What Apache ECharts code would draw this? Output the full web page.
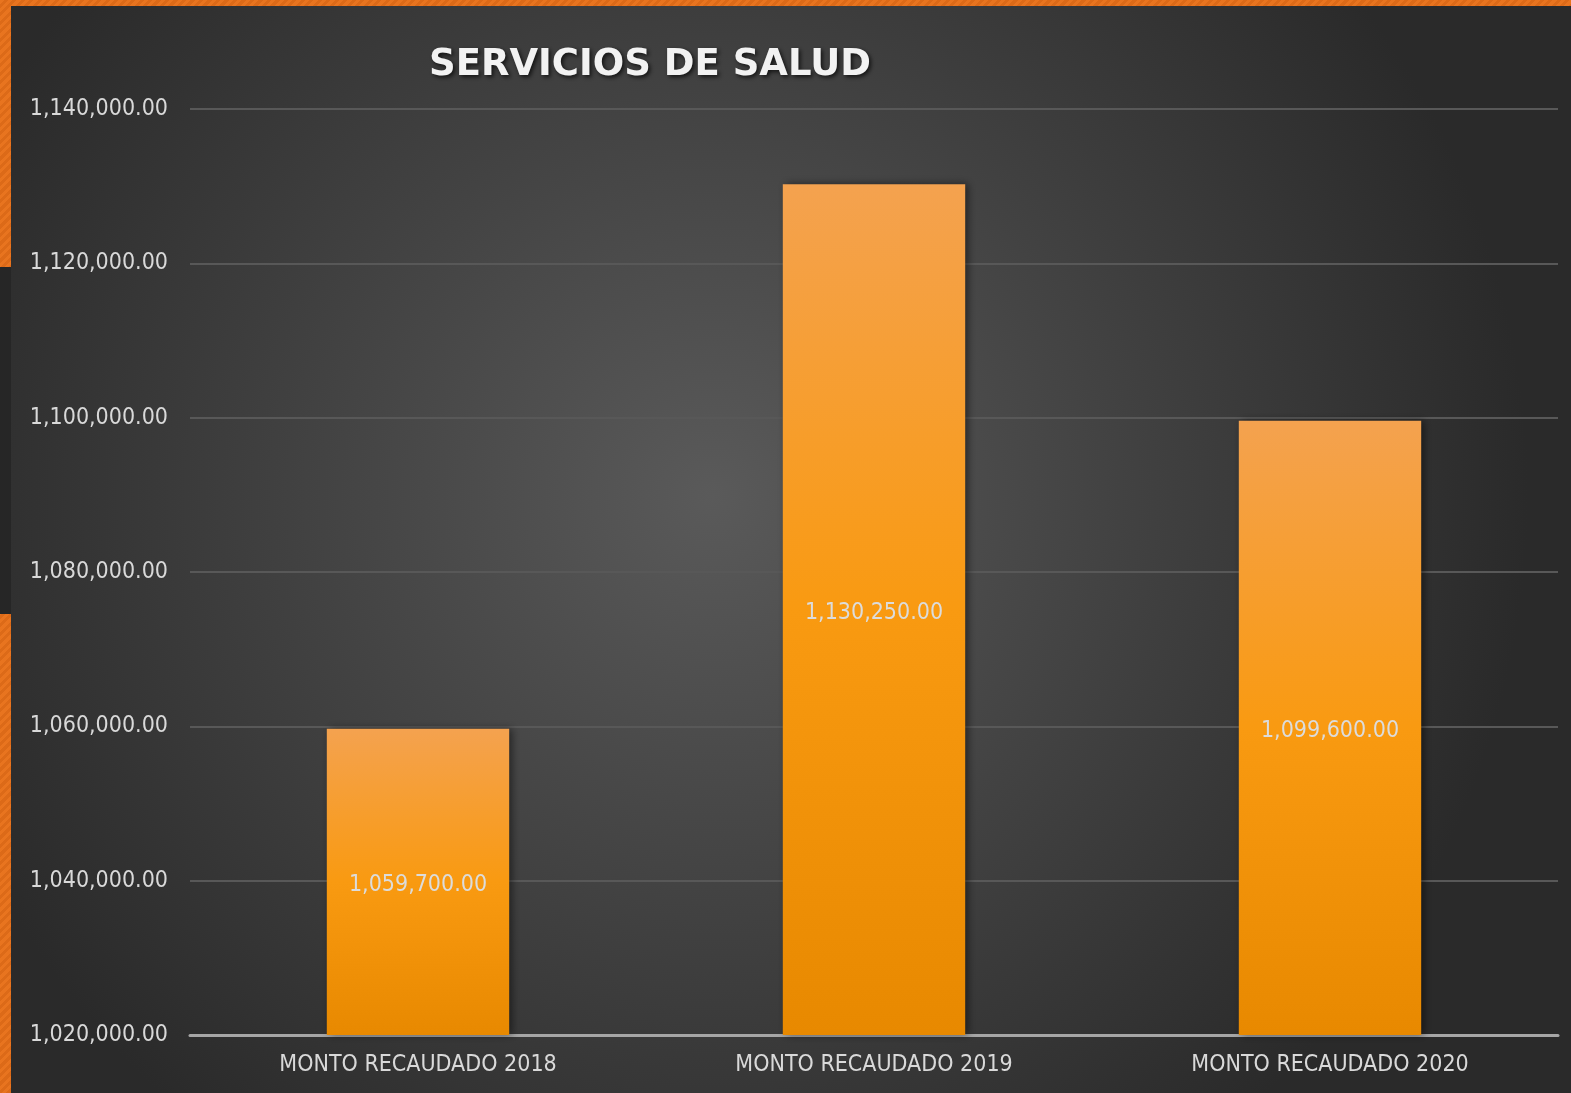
<!DOCTYPE html>
<html><head><meta charset="utf-8">
<script src="https://cdn.jsdelivr.net/npm/echarts@6/dist/echarts.min.js"></script>
<style>
html,body{margin:0;padding:0;width:1571px;height:1093px;overflow:hidden;}
body{background:repeating-linear-gradient(135deg,#e8741f 0px,#e8741f 3px,#dc6a18 3px,#dc6a18 6px);position:relative;}
#strip{position:absolute;left:0;top:267px;width:11px;height:347px;background:#262626;}
#c{position:absolute;left:11px;top:6px;width:1560px;height:1087px;}
</style></head>
<body><div id="strip"></div><div id="c"></div>
<script>
const categories = ['MONTO RECAUDADO 2018','MONTO RECAUDADO 2019','MONTO RECAUDADO 2020'];
const values = [1059700, 1130250, 1099600];
const titleText = 'SERVICIOS DE SALUD';

function fmt(v){
  return Number(v).toLocaleString('en-US',{minimumFractionDigits:2,maximumFractionDigits:2});
}
const chart = echarts.init(document.getElementById('c'));
chart.setOption({
  backgroundColor: new echarts.graphic.RadialGradient(0.45,0.45,0.75,[
    {offset:0,color:'#5a5a5a'},{offset:1,color:'#2a2a2a'}
  ]),
  title:{
    text:titleText,left:634,top:36,textAlign:'center',
    textStyle:{color:'#f2f2f2',fontSize:37,fontWeight:'bold',fontFamily:'DejaVu Sans',
      textShadowColor:'rgba(0,0,0,0.7)',textShadowBlur:4,textShadowOffsetX:2,textShadowOffsetY:2}
  },
  grid:{left:179,right:13,top:103,bottom:58,containLabel:false},
  xAxis:{
    type:'category',data:categories,
    axisLine:{lineStyle:{color:'#a6a6a6',width:3}},
    axisTick:{show:false},
    axisLabel:{color:'#d9d9d9',fontSize:23,margin:19,fontFamily:'DejaVu Sans Condensed'}
  },
  yAxis:{
    type:'value',min:1020000,max:1140000,interval:20000,
    axisLine:{show:false},axisTick:{show:false},
    splitLine:{lineStyle:{color:'#585858',width:2}},
    axisLabel:{color:'#d9d9d9',fontSize:23,margin:22,fontFamily:'DejaVu Sans Condensed',formatter:fmt}
  },
  series:[{
    type:'bar',data:values,barWidth:'40%',
    itemStyle:{
      color:new echarts.graphic.LinearGradient(0,0,0,1,[
        {offset:0,color:'#f4a24f'},{offset:0.5,color:'#f99a11'},{offset:1,color:'#e88900'}
      ]),
      shadowColor:'rgba(0,0,0,0.5)',shadowBlur:8,shadowOffsetX:3,shadowOffsetY:0
    },
    label:{show:true,position:'inside',offset:[0,3],color:'#dcdcdc',fontSize:23,fontFamily:'DejaVu Sans Condensed',formatter:p=>fmt(p.value)}
  }]
});
</script></body></html>
